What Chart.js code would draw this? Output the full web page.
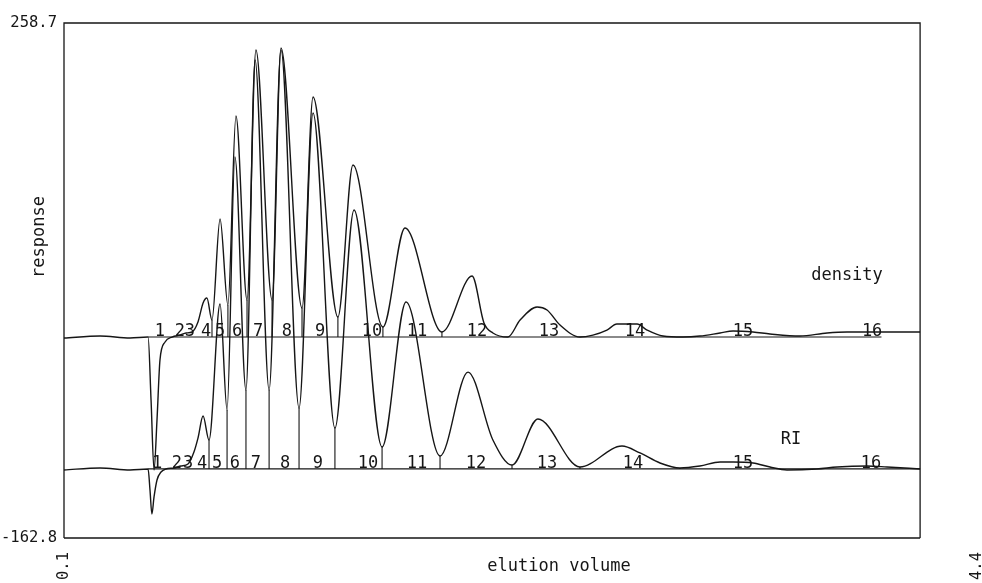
<!DOCTYPE html>
<html>
<head>
<meta charset="utf-8">
<script src="https://cdn.jsdelivr.net/npm/chart.js@4.4.1/dist/chart.umd.min.js"></script>
<style>
  html, body { margin: 0; padding: 0; background: #fff; }
  #gpc { display: block; }
</style>
</head>
<body>
<canvas id="gpc" width="982" height="583"></canvas>
<script>
// density detector trace (elution volume, response)
const densityX = [0.10, 0.270, 0.411, 0.496, 0.510, 0.524, 0.538, 0.552, 0.576, 0.609,
  0.646, 0.675, 0.703, 0.731, 0.755, 0.773, 0.797, 0.835, 0.872, 0.910,
  0.962, 1.004, 1.080, 1.122, 1.221, 1.273, 1.390, 1.461, 1.602, 1.706,
  1.880, 2.022, 2.078, 2.120, 2.191, 2.248, 2.328, 2.375, 2.436, 2.530,
  2.591, 2.657, 2.704, 2.799, 2.846, 2.921, 3.015, 3.095, 3.190, 3.251,
  3.345, 3.425, 3.566, 3.694, 3.788, 3.943, 4.132];
const densityY = [0.9, 2.5, 0.9, 1.7, -49.9, -107.1, -66.2, -17.1, -2.4, 1.7,
  3.3, 5.0, 5.8, 14.0, 29.5, 33.6, 15.6, 98.3, 27.9, 182.6,
  32.0, 236.6, 32.0, 238.2, 25.4, 198.1, 18.1, 142.5, 9.9, 90.9,
  5.8, 51.6, 13.2, 5.0, 1.7, 15.6, 26.3, 23.8, 11.5, 1.7,
  3.3, 7.4, 12.3, 12.3, 7.4, 2.5, 1.7, 2.5, 5.0, 6.6,
  5.8, 4.2, 2.5, 5.0, 5.8, 5.8, 5.8];

// refractive index trace
const riX = [0.10, 0.270, 0.411, 0.496, 0.505, 0.514, 0.524, 0.538, 0.557, 0.580,
  0.618, 0.651, 0.684, 0.712, 0.731, 0.755, 0.783, 0.835, 0.868, 0.905,
  0.957, 1.000, 1.066, 1.122, 1.207, 1.273, 1.376, 1.466, 1.598, 1.711,
  1.871, 2.003, 2.120, 2.210, 2.332, 2.530, 2.728, 2.813, 2.907, 3.001,
  3.095, 3.190, 3.251, 3.345, 3.425, 3.505, 3.646, 3.741, 3.882, 3.976,
  4.132];
const riY = [-107.1, -105.5, -107.1, -106.3, -123.5, -143.2, -129.2, -115.3, -108.8, -106.3,
  -105.5, -103.9, -102.3, -92.4, -81.0, -63.0, -82.6, 28.7, -58.0, 149.0,
  -41.7, 228.4, -41.7, 236.6, -56.4, 185.0, -72.8, 105.7, -88.3, 30.3,
  -95.7, -27.0, -82.6, -103.1, -65.4, -104.7, -87.5, -93.2, -101.4, -105.5,
  -103.9, -100.6, -100.6, -101.4, -104.7, -107.1, -106.3, -104.7, -103.9, -104.7,
  -106.3];

// integration baselines and peak cut positions
const densityBase = 1.7;
const riBase = -106.3;
const baseStart = 0.496;
const densityCuts = [0.797, 0.872, 0.962, 1.080, 1.221, 1.390, 1.602, 1.880, 2.191, 2.530, 3.015];
const riCuts = [0.783, 0.868, 0.957, 1.066, 1.207, 1.376, 1.598, 1.871, 2.210, 2.530, 3.001];

// peak numbers
const peakNames = ['1', '2', '3', '4', '5', '6', '7', '8', '9', '10', '11', '12', '13', '14', '15', '16'];
const densityPeakX = [0.552, 0.646, 0.693, 0.769, 0.835, 0.915, 1.014, 1.150, 1.306, 1.551, 1.763, 2.045, 2.384, 2.789, 3.298, 3.906];
const riPeakX = [0.538, 0.632, 0.684, 0.750, 0.821, 0.905, 1.004, 1.141, 1.296, 1.532, 1.763, 2.040, 2.375, 2.780, 3.298, 3.901];

const xTicks = [0.1, 4.4];
const yTicks = [-162.8, 258.7];

const ink = '#161616';
const mono = '"DejaVu Sans Mono", "Liberation Mono", monospace';

function points(xs, ys) {
  return xs.map((x, i) => ({ x: x, y: ys[i] }));
}

function cutLines(cuts, xs, ys, base) {
  return cuts.map((c) => {
    const i = xs.indexOf(c);
    return {
      data: [{ x: c, y: ys[i] }, { x: c, y: base }],
      borderColor: ink,
      borderWidth: 1.1,
      pointRadius: 0,
      tension: 0,
    };
  });
}

const traceStyle = {
  borderColor: ink,
  borderWidth: 1.4,
  pointRadius: 0,
  cubicInterpolationMode: 'monotone',
  fill: false,
};

const datasets = [
  Object.assign({ label: 'density', data: points(densityX, densityY) }, traceStyle),
  Object.assign({ label: 'RI', data: points(riX, riY) }, traceStyle),
  { data: [{ x: baseStart, y: densityBase }, { x: 3.95, y: densityBase }], borderColor: ink, borderWidth: 1.2, pointRadius: 0 },
  { data: [{ x: baseStart, y: riBase }, { x: 4.132, y: riBase }], borderColor: ink, borderWidth: 1.2, pointRadius: 0 },
  ...cutLines(densityCuts, densityX, densityY, densityBase),
  ...cutLines(riCuts, riX, riY, riBase),
];

// frame, peak numbers and free text
const decorations = {
  id: 'decorations',
  afterDatasetsDraw(chart) {
    const ctx = chart.ctx;
    const xs = chart.scales.x;
    const ys = chart.scales.y;
    const left = xs.getPixelForValue(xTicks[0]);
    const right = xs.getPixelForValue(densityX[densityX.length - 1]);
    const top = ys.getPixelForValue(yTicks[1]);
    const bottom = ys.getPixelForValue(yTicks[0]);

    ctx.save();
    ctx.strokeStyle = ink;
    ctx.lineWidth = 1.3;
    ctx.beginPath();
    ctx.moveTo(left, bottom);
    ctx.lineTo(left, top);
    ctx.lineTo(right, top);
    ctx.lineTo(right, bottom);
    ctx.moveTo(left, bottom);
    ctx.lineTo(right, bottom);
    ctx.stroke();

    ctx.fillStyle = ink;
    ctx.font = '17px ' + mono;
    ctx.textAlign = 'center';
    ctx.textBaseline = 'alphabetic';
    peakNames.forEach((name, i) => {
      ctx.fillText(name, xs.getPixelForValue(densityPeakX[i]), ys.getPixelForValue(densityBase) - 1);
      ctx.fillText(name, xs.getPixelForValue(riPeakX[i]), ys.getPixelForValue(riBase) - 1);
    });

    ctx.textBaseline = 'middle';
    ctx.fillText('density', 847, 276);
    ctx.fillText('RI', 791, 440);
    ctx.fillText('elution volume', 559, 567);

    ctx.translate(40, 237);
    ctx.rotate(-Math.PI / 2);
    ctx.fillText('response', 0, 0);
    ctx.restore();
  }
};

new Chart(document.getElementById('gpc'), {
  type: 'line',
  data: { datasets: datasets },
  options: {
    responsive: false,
    animation: false,
    events: [],
    layout: { padding: { left: 0, right: 5, top: 23, bottom: 0 } },
    plugins: { legend: { display: false }, tooltip: { enabled: false } },
    scales: {
      x: {
        type: 'linear',
        min: xTicks[0],
        max: xTicks[1],
        grid: { display: false, drawTicks: false },
        border: { display: false },
        afterBuildTicks: (s) => { s.ticks = xTicks.map((v) => ({ value: v })); },
        afterFit: (s) => { s.height = 45; s.paddingLeft = 0; s.paddingRight = 0; },
        ticks: {
          autoSkip: false,
          minRotation: 90,
          maxRotation: 90,
          padding: 14,
          color: ink,
          font: { family: mono, size: 15.5 },
          callback: (v) => v.toFixed(1),
        },
      },
      y: {
        type: 'linear',
        min: yTicks[0],
        max: yTicks[1],
        grid: { display: false, drawTicks: false },
        border: { display: false },
        afterBuildTicks: (s) => { s.ticks = yTicks.map((v) => ({ value: v })); },
        afterFit: (s) => { s.width = 64; s.paddingTop = 0; s.paddingBottom = 0; },
        ticks: {
          padding: 7,
          color: ink,
          font: { family: mono, size: 15.5 },
          callback: (v) => v.toFixed(1),
        },
      },
    },
  },
  plugins: [decorations],
});
</script>
</body>
</html>
